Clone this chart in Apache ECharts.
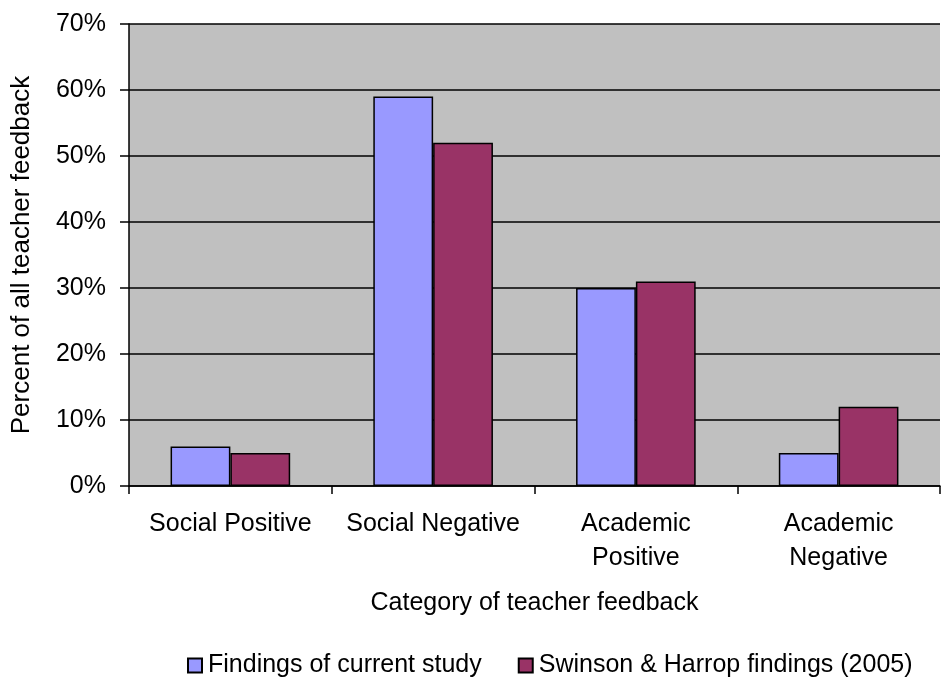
<!DOCTYPE html>
<html>
<head>
<meta charset="utf-8">
<script src="https://cdn.jsdelivr.net/npm/echarts@6/dist/echarts.min.js"></script>
<style>
  html, body { margin: 0; padding: 0; background: #fff; }
  #chart { width: 941px; height: 680px; }
</style>
</head>
<body>
<div id="chart"></div>
<script>
// Feedback categories (x axis)
const categories = ['Social Positive', 'Social Negative', 'Academic\nPositive', 'Academic\nNegative'];
// Series names
const seriesNames = ['Findings of current study', 'Swinson & Harrop findings (2005)'];
// Percent of all teacher feedback
const currentStudy = [6, 59, 30, 5];
const swinsonHarrop = [5, 52, 31, 12];

const FONT = '"Liberation Sans", Arial, sans-serif';
const chart = echarts.init(document.getElementById('chart'), null, { renderer: 'canvas' });

chart.setOption({
  animation: false,
  backgroundColor: '#ffffff',
  textStyle: { fontFamily: FONT, color: '#000' },
  legend: {
    left: 187,
    top: 653,
    padding: 0,
    itemWidth: 14,
    itemHeight: 14,
    itemGap: 36,
    icon: 'rect',
    textStyle: { fontFamily: FONT, fontSize: 25, color: '#000', lineHeight: 24, padding: [0, 0, 0, 1] },
    data: seriesNames
  },
  grid: {
    left: 129,
    right: 1,
    top: 24,
    bottom: 194,
    show: true,
    backgroundColor: '#C0C0C0',
    borderWidth: 0
  },
  xAxis: {
    type: 'category',
    data: categories,
    name: 'Category of teacher feedback',
    nameLocation: 'middle',
    nameGap: 105,
    nameTextStyle: { fontFamily: FONT, fontSize: 25, color: '#000', lineHeight: 24 },
    axisLine: { lineStyle: { color: '#000', width: 1.5 } },
    axisTick: { show: true, length: 8, lineStyle: { color: '#000', width: 1.5 } },
    axisLabel: {
      interval: 0,
      margin: 21,
      fontFamily: FONT,
      fontSize: 25,
      lineHeight: 34,
      color: '#000'
    }
  },
  yAxis: {
    type: 'value',
    min: 0,
    max: 70,
    interval: 10,
    name: 'Percent of all teacher feedback',
    nameLocation: 'middle',
    nameGap: 95,
    nameTextStyle: { fontFamily: FONT, fontSize: 26, color: '#000', lineHeight: 24 },
    axisLine: { show: true, lineStyle: { color: '#000', width: 1.5 } },
    axisTick: { show: true, length: 9, lineStyle: { color: '#000', width: 1.5 } },
    axisLabel: {
      margin: 23,
      fontFamily: FONT,
      fontSize: 25,
      color: '#000',
      formatter: '{value}%'
    },
    splitLine: { show: true, lineStyle: { color: '#000', width: 1.5 } }
  },
  series: [
    {
      name: seriesNames[0],
      type: 'bar',
      data: currentStudy,
      barGap: '0%',
      barCategoryGap: '41%',
      itemStyle: { color: '#9999FF', borderColor: '#000', borderWidth: 1.5 }
    },
    {
      name: seriesNames[1],
      type: 'bar',
      data: swinsonHarrop,
      barGap: '0%',
      barCategoryGap: '41%',
      itemStyle: { color: '#993366', borderColor: '#000', borderWidth: 1.5 }
    }
  ]
});
</script>
</body>
</html>
